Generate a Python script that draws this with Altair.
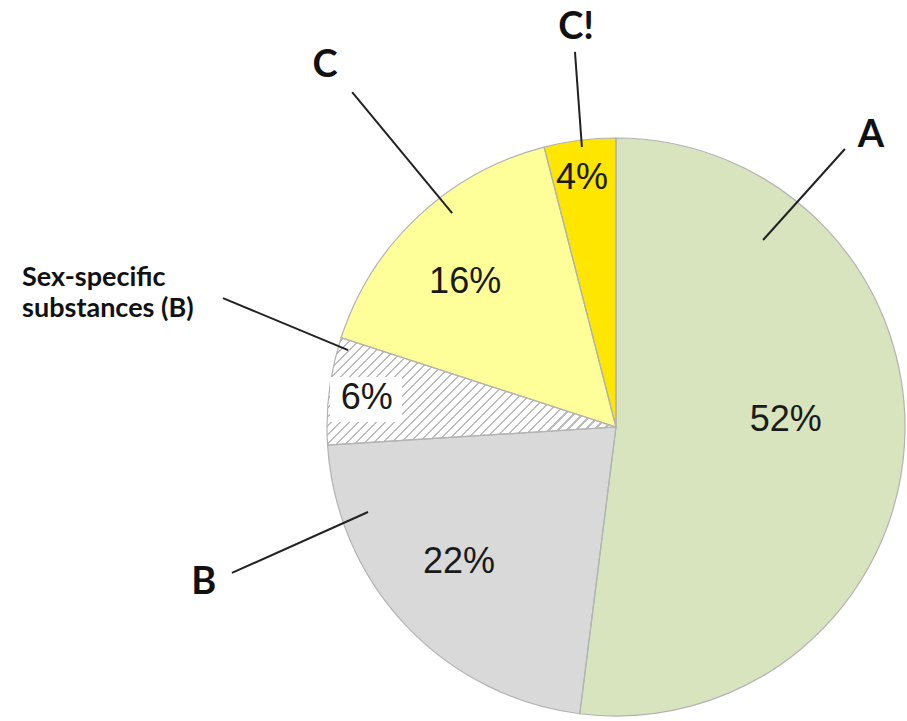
import altair as alt
import pandas as pd

# ---- data ----
keys = ["A", "B", "S", "C", "C!"]
categories = ["A", "B", "Sex-specific substances (B)", "C", "C!"]
values = [52, 22, 6, 16, 4]
pct_labels = ["52%", "22%", "6%", "16%", "4%"]
colors = ["#d7e4bd", "#d9d9d9", "#ffffff", "#ffff99", "#ffe600"]

# ---- layout (label placement) ----
PIE_R = 289  # pie radius in pixels
label_radius = {"A": 170, "B": 207, "S": 251, "C": 209, "C!": 251}
label_angle_shift = {"A": -6.0, "B": 2.5, "S": -0.6, "C": -3.0, "C!": -0.6}  # degrees
# callout text position and leader line (pie-radius units, centre = 0,0)
callouts = {
    "A":  {"tx": 0.882, "ty": 1.007, "x1": 0.509, "y1": 0.647, "x2": 0.792, "y2": 0.962},
    "B":  {"tx": -1.426, "ty": -0.540, "x1": -1.329, "y1": -0.505, "x2": -0.858, "y2": -0.294},
    "S":  {"tx": -2.055, "ty": 0.516, "x1": -1.360, "y1": 0.446, "x2": -0.927, "y2": 0.266},
    "C":  {"tx": -1.007, "ty": 1.248, "x1": -0.913, "y1": 1.159, "x2": -0.567, "y2": 0.740},
    "C!": {"tx": -0.138, "ty": 1.381, "x1": -0.142, "y1": 1.298, "x2": -0.118, "y2": 0.969},
}
box_pos = {"x": -0.865, "y": 0.095}

df = pd.DataFrame({
    "key": keys,
    "category": categories,
    "value": values,
    "pct": pct_labels,
    "idx": list(range(len(keys))),
})
df["lr"] = df["key"].map(label_radius) / PIE_R
df["shift"] = df["key"].map(label_angle_shift)

co = pd.DataFrame([dict(key=k, **v) for k, v in callouts.items()])
box_df = pd.DataFrame([box_pos])

# hatch pattern as a striped linear gradient
N = 44
stops = []
for i in range(N):
    a = i / N
    b = (i + 0.7) / N
    c = (i + 1) / N
    stops += [
        alt.GradientStop(color="#ffffff", offset=a),
        alt.GradientStop(color="#ffffff", offset=b),
        alt.GradientStop(color="#bcbcbc", offset=b),
        alt.GradientStop(color="#bcbcbc", offset=c),
    ]
hatch_grad = alt.LinearGradient(gradient="linear", stops=stops, x1=0, y1=0, x2=1.205, y2=0.448)

xs = alt.Scale(domain=[-1, 1], nice=False, zero=False)
ys = alt.Scale(domain=[-1, 1], nice=False, zero=False)

base = alt.Chart(df).encode(
    theta=alt.Theta("value:Q", stack=True),
    order=alt.Order("idx:Q"),
)

pie_fill = base.mark_arc(strokeWidth=0).encode(
    fill=alt.Fill("key:N", scale=alt.Scale(domain=keys, range=colors), legend=None)
)
hatch = base.mark_arc(fill=hatch_grad, strokeWidth=0).encode(
    opacity=alt.condition("datum.key == 'S'", alt.value(1), alt.value(0))
)
pie_stroke = base.mark_arc(fillOpacity=0, fill="#ffffff", stroke="#b3b3b3", strokeWidth=1.2)

box = alt.Chart(box_df).mark_point(
    shape="M-1,-0.625L1,-0.625L1,0.625L-1,0.625Z",
    size=5184, filled=True, fill="#ffffff", opacity=1, strokeWidth=0,
).encode(
    x=alt.X("x:Q", scale=xs, axis=None),
    y=alt.Y("y:Q", scale=ys, axis=None),
)

pct_text = alt.Chart(df).transform_joinaggregate(
    total="sum(value)"
).transform_window(
    cum="sum(value)", sort=[alt.SortField("idx")], frame=[None, 0]
).transform_calculate(
    ang="2*PI*(datum.cum - datum.value/2)/datum.total + datum.shift*PI/180"
).transform_calculate(
    lx="datum.lr*sin(datum.ang)",
    ly="datum.lr*cos(datum.ang)",
).mark_text(
    font="Liberation Sans", fontSize=36, color="#1a1a1a", align="center", baseline="middle"
).encode(
    x=alt.X("lx:Q", scale=xs, axis=None),
    y=alt.Y("ly:Q", scale=ys, axis=None),
    text="pct:N",
)

leaders = alt.Chart(co).mark_rule(color="#222222", strokeWidth=2).encode(
    x=alt.X("x1:Q", scale=xs, axis=None),
    y=alt.Y("y1:Q", scale=ys, axis=None),
    x2="x2:Q",
    y2="y2:Q",
)

callout_text = alt.Chart(co).transform_filter("datum.key != 'S'").mark_text(
    font="Lato", fontWeight="bold", fontSize=38, color="#111111", align="center", baseline="middle"
).encode(
    x=alt.X("tx:Q", scale=xs, axis=None),
    y=alt.Y("ty:Q", scale=ys, axis=None),
    text="key:N",
)

sex_text = alt.Chart(co).transform_filter("datum.key == 'S'").mark_text(
    font="Lato", fontWeight="bold", fontSize=27, color="#111111", align="left",
    baseline="middle", lineHeight=31,
).encode(
    x=alt.X("tx:Q", scale=xs, axis=None),
    y=alt.Y("ty:Q", scale=ys, axis=None),
    text=alt.value(["Sex-specific", "substances (B)"]),
)

chart = alt.layer(
    pie_fill, hatch, pie_stroke, box, pct_text, leaders, callout_text, sex_text
).properties(
    width=578,
    height=578,
    padding={"left": 327, "top": 138, "right": 2, "bottom": 5},
    autosize="none",
    background="#ffffff",
).configure_view(strokeWidth=0)

chart.save("out.html", embed_options={"renderer": "svg", "actions": False})
